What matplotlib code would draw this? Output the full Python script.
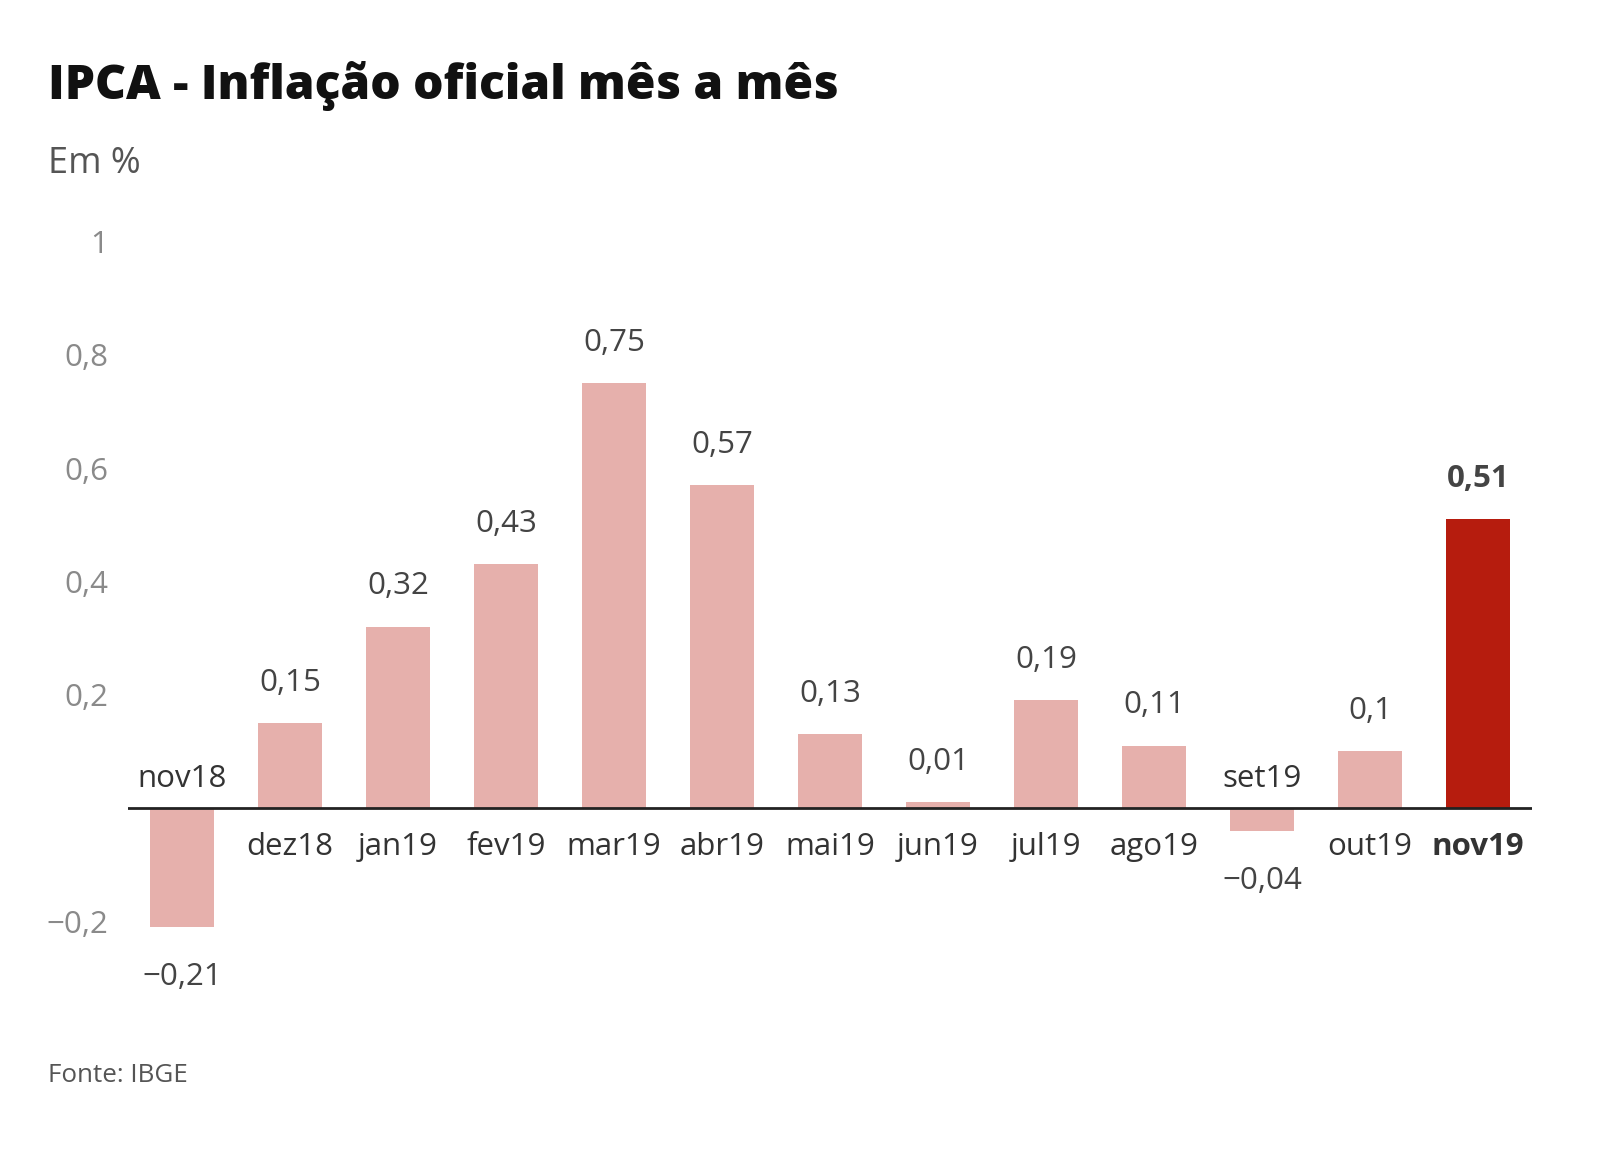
import matplotlib.pyplot as plt
from matplotlib.ticker import FixedLocator

# data
months = ['nov18', 'dez18', 'jan19', 'fev19', 'mar19', 'abr19', 'mai19',
          'jun19', 'jul19', 'ago19', 'set19', 'out19', 'nov19']
values = [-0.21, 0.15, 0.32, 0.43, 0.75, 0.57, 0.13, 0.01, 0.19, 0.11, -0.04, 0.10, 0.51]
yticks = [-0.2, 0.2, 0.4, 0.6, 0.8, 1.0]

light = '#e6b0ac'
dark = '#b61c0e'

plt.rcParams['font.family'] = ['Open Sans', 'DejaVu Sans']

fig = plt.figure(figsize=(16, 11.55), dpi=100)
ax = fig.add_axes([0.080, 0.1535, 0.8775, 0.6372])

colors = [light] * (len(values) - 1) + [dark]
x = range(len(values))
ax.bar(x, values, width=0.6, color=colors, zorder=2)
ax.axhline(0, color='#222222', lw=2, zorder=3)

ax.set_xlim(-0.5, 12.5)
ax.set_ylim(-0.3, 1.0)
ax.yaxis.set_major_locator(FixedLocator(yticks))
ax.set_yticklabels([('\u2212' if t < 0 else '') + ('%g' % abs(t)).replace('.', ',') for t in yticks])
ax.tick_params(axis='y', length=0, pad=14, labelsize=22.5, labelcolor='#8a8a8a')
ax.set_xticks([])
for s in ax.spines.values():
    s.set_visible(False)

def fmt(v):
    s = ('%g' % abs(v)).replace('.', ',')
    return ('\u2212' + s) if v < 0 else s

fs = 22.5
for i, (m, v) in enumerate(zip(months, values)):
    last = i == len(values) - 1
    w = 'bold' if last else 'normal'
    if v >= 0:
        ax.annotate(fmt(v), (i, v), xytext=(0, 29), textcoords='offset points',
                    ha='center', va='center', fontsize=fs, color='#444444', fontweight=w)
        ax.annotate(m, (i, 0), xytext=(0, -28), textcoords='offset points',
                    ha='center', va='center', fontsize=fs, color='#333333', fontweight=w)
    else:
        ax.annotate(fmt(v), (i, v), xytext=(0, -36), textcoords='offset points',
                    ha='center', va='center', fontsize=fs, color='#444444', fontweight=w)
        ax.annotate(m, (i, 0), xytext=(0, 21), textcoords='offset points',
                    ha='center', va='center', fontsize=fs, color='#333333', fontweight=w)

fig.text(0.03, 0.914, 'IPCA - Inflação oficial mês a mês', fontsize=34.5, fontweight='heavy',
         color='#111111', va='baseline')
fig.text(0.03, 0.85, 'Em %', fontsize=26, color='#555555', va='baseline')
fig.text(0.03, 0.063, 'Fonte: IBGE', fontsize=18.7, color='#555555', va='baseline')

fig.savefig('out.png', dpi=100)
